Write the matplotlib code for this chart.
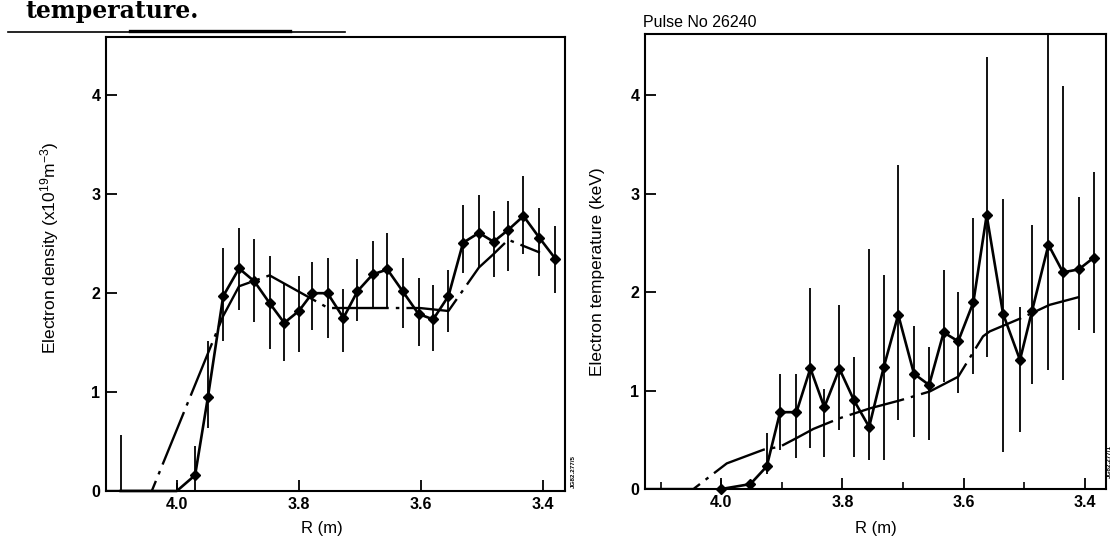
import matplotlib
matplotlib.use('Agg')
import matplotlib.pyplot as plt
from matplotlib.ticker import FixedLocator, FormatStrFormatter

plt.rcParams['font.family'] = ['Liberation Sans', 'DejaVu Sans']
plt.rcParams['mathtext.fontset'] = 'custom'
plt.rcParams['mathtext.rm'] = 'Liberation Sans'
plt.rcParams['mathtext.it'] = 'Liberation Sans'

# ---------------- data: electron density (left) ----------------
R_ne = [4.092, 4.000, 3.970, 3.949, 3.924, 3.898, 3.873, 3.848, 3.824, 3.800,
        3.778, 3.753, 3.727, 3.704, 3.679, 3.655, 3.630, 3.604, 3.580, 3.555,
        3.531, 3.505, 3.481, 3.457, 3.432, 3.406, 3.380]
ne = [0.0, 0.0, 0.16, 0.95, 1.97, 2.25, 2.12, 1.90, 1.70, 1.82,
      2.00, 2.00, 1.75, 2.02, 2.19, 2.24, 2.02, 1.79, 1.735, 1.97,
      2.51, 2.61, 2.52, 2.64, 2.78, 2.56, 2.35]
ne_lo = [0.0, 0.0, 0.0, 0.64, 1.52, 1.83, 1.71, 1.44, 1.31, 1.41,
         1.63, 1.55, 1.41, 1.72, 1.85, 1.86, 1.65, 1.47, 1.42, 1.61,
         2.20, 2.26, 2.16, 2.22, 2.40, 2.17, 2.00]
ne_hi = [0.57, 0.08, 0.46, 1.52, 2.46, 2.66, 2.55, 2.38, 2.10, 2.17,
         2.32, 2.36, 2.04, 2.35, 2.53, 2.61, 2.36, 2.15, 2.08, 2.23,
         2.89, 2.99, 2.83, 2.93, 3.18, 2.86, 2.68]
R_ne_fit = [4.116, 4.041, 3.924, 3.898, 3.848, 3.752, 3.687, 3.602, 3.555,
            3.505, 3.482, 3.457, 3.405]
ne_fit = [0.0, 0.0, 1.77, 2.07, 2.18, 1.85, 1.85, 1.85, 1.82,
          2.26, 2.39, 2.54, 2.41]

# ---------------- data: electron temperature (right) ----------------
R_te = [4.000, 3.952, 3.925, 3.903, 3.876, 3.853, 3.830, 3.805, 3.781, 3.756,
        3.732, 3.708, 3.682, 3.657, 3.633, 3.609, 3.584, 3.562, 3.535, 3.507,
        3.487, 3.460, 3.436, 3.410, 3.385]
te = [0.0, 0.05, 0.23, 0.78, 0.78, 1.225, 0.83, 1.22, 0.90, 0.63,
      1.235, 1.77, 1.17, 1.056, 1.59, 1.50, 1.895, 2.78, 1.78, 1.31,
      1.81, 2.48, 2.20, 2.23, 2.35]
te_lo = [0.0, 0.05, 0.15, 0.40, 0.31, 0.42, 0.33, 0.60, 0.33, 0.29,
         0.29, 0.70, 0.53, 0.50, 1.09, 0.97, 1.17, 1.34, 0.38, 0.58,
         1.07, 1.21, 1.11, 1.61, 1.58]
te_hi = [0.09, 0.05, 0.57, 1.17, 1.17, 2.04, 1.02, 1.87, 1.34, 2.44,
         2.17, 3.29, 1.66, 1.44, 2.22, 2.00, 2.75, 4.39, 2.94, 1.85,
         2.68, 4.80, 4.09, 2.97, 3.22]
R_te_fit = [4.126, 4.046, 3.991, 3.930, 3.903, 3.875, 3.848, 3.804, 3.754,
            3.705, 3.656, 3.609, 3.568, 3.557, 3.507, 3.458, 3.409]
te_fit = [0.0, 0.0, 0.26, 0.40, 0.43, 0.52, 0.61, 0.72, 0.82,
          0.90, 0.99, 1.14, 1.55, 1.60, 1.73, 1.87, 1.95]

x_ticks = [4.0, 3.8, 3.6, 3.4]
x_minor = [4.1, 3.9, 3.7, 3.5]
y_ticks = [0, 1, 2, 3, 4]

W, H = 1112, 540
fig = plt.figure(figsize=(W / 100, H / 100), dpi=100)


def box(l, t, r, b):
    return [l / W, 1 - b / H, (r - l) / W, (b - t) / H]


ax1 = fig.add_axes(box(106, 37, 565, 491))
ax2 = fig.add_axes(box(645, 34, 1106, 489))

dashdot = (0, (24, 3, 1.5, 3))


def style(ax, xlim, ylim, minor):
    ax.set_xlim(*xlim)
    ax.set_ylim(*ylim)
    for s in ax.spines.values():
        s.set_linewidth(1.5)
    ax.xaxis.set_major_locator(FixedLocator(x_ticks))
    ax.xaxis.set_major_formatter(FormatStrFormatter('%.1f'))
    ax.yaxis.set_major_locator(FixedLocator(y_ticks))
    if minor:
        ax.xaxis.set_minor_locator(FixedLocator(x_minor))
    ax.tick_params(axis='both', which='major', direction='in', length=8,
                   width=1.3, labelsize=11.5, pad=4)
    ax.tick_params(axis='x', which='minor', direction='in', length=5, width=1.2)
    for lab in ax.get_xticklabels() + ax.get_yticklabels():
        lab.set_fontweight('bold')


def draw(ax, R, v, lo, hi, Rf, vf, show_zero):
    ax.vlines(R, lo, hi, color='k', lw=1.3, zorder=2)
    ax.plot(Rf, vf, color='k', lw=1.7, linestyle=dashdot, zorder=3)
    mark = [i for i, val in enumerate(v) if show_zero or val > 0]
    ax.plot(R, v, color='k', lw=1.9, marker='D', ms=5.5, markevery=mark,
            zorder=4, clip_on=False)


draw(ax1, R_ne, ne, ne_lo, ne_hi, R_ne_fit, ne_fit, False)
draw(ax2, R_te, te, te_lo, te_hi, R_te_fit, te_fit, True)
style(ax1, (4.116, 3.364), (0, 4.59), False)
style(ax2, (4.126, 3.365), (0, 4.62), True)

ax1.set_ylabel(r'Electron density (x10$^{19}$m$^{-3}$)', fontsize=12.5)
ax1.yaxis.set_label_coords(-0.098, 0.535)
ax2.set_ylabel('Electron temperature (keV)', fontsize=12.5)
ax2.yaxis.set_label_coords(-0.087, 0.477)
ax1.set_xlabel('R (m)', fontsize=12)
ax1.xaxis.set_label_coords(0.47, -0.066)
ax2.set_xlabel('R (m)', fontsize=12)
ax2.xaxis.set_label_coords(0.50, -0.071)

# texts outside axes
fig.text(643 / W, 1 - 27 / H, 'Pulse No 26240', fontsize=11.5,
         ha='left', va='baseline')
fig.text(25 / W, 1 - 18 / H, 'temperature.', fontsize=17,
         family='DejaVu Serif', fontweight='bold', ha='left', va='baseline')
fig.add_artist(plt.Line2D([8 / W, 345 / W], [1 - 32 / H, 1 - 32 / H],
                          color='k', lw=1.2))
fig.add_artist(plt.Line2D([130 / W, 290 / W], [1 - 31 / H, 1 - 31 / H],
                          color='k', lw=2.4))
fig.text(573 / W, 1 - 472 / H, 'JG82.277/5', fontsize=4.5, fontweight='bold',
         rotation=90, ha='center', va='center')
fig.text(1109 / W, 1 - 462 / H, 'JG82.277/1', fontsize=4.5, fontweight='bold',
         rotation=90, ha='center', va='center')

fig.savefig('out.png', dpi=100)
